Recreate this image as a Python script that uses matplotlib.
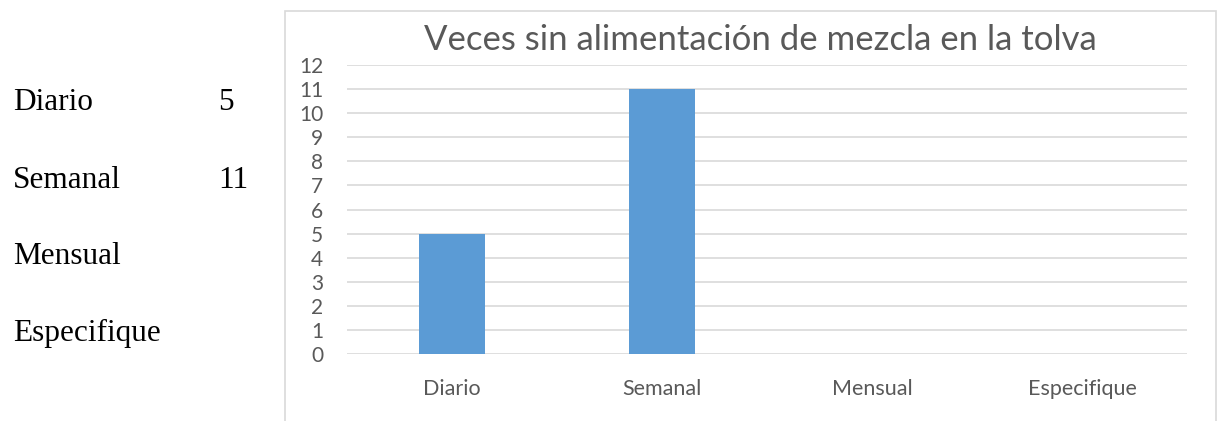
import matplotlib.pyplot as plt
from matplotlib.patches import Rectangle

# Datos
categorias = ['Diario', 'Semanal', 'Mensual', 'Especifique']
valores = [5, 11, 0, 0]
tabla_etiquetas = ['Diario', 'Semanal', 'Mensual', 'Especifique']
tabla_valores = ['5', '11', '', '']
titulo = 'Veces sin alimentación de mezcla en la tolva'

W, H = 1218, 421
fig = plt.figure(figsize=(W / 100, H / 100), dpi=100)

# Marco del gráfico
fig.patches.append(Rectangle((285 / W, -0.05), (1216 - 285) / W, (H - 11) / H + 0.05,
                             transform=fig.transFigure, fill=False,
                             edgecolor='#D9D9D9', linewidth=1.2))

# Tabla a la izquierda (texto)
ys = [103, 180, 257, 333]
for y, et, v in zip(ys, tabla_etiquetas, tabla_valores):
    fig.text(13 / W, 1 - y / H, et, family='Liberation Serif', fontsize=22.5,
             va='center', ha='left', color='black')
    if v:
        fig.text(218 / W, 1 - y / H, v, family='Liberation Serif', fontsize=22.5,
                 va='center', ha='left', color='black')

# Ejes del gráfico de barras
ax = fig.add_axes([347 / W, (H - 354) / H, 840 / W, (354 - 65) / H])
x = range(len(categorias))
ax.bar(x, valores, width=0.314, color='#5B9BD5', zorder=3)
ax.set_xlim(-0.5, len(categorias) - 0.5)
ax.set_ylim(0, 12)
ax.set_yticks(range(0, 13))
ax.set_xticks(list(x))
ax.set_xticklabels(categorias)
ax.grid(axis='y', color='#D9D9D9', linewidth=1.2, zorder=0)
for s in ax.spines.values():
    s.set_visible(False)
ax.tick_params(axis='both', length=0, colors='#595959')
ax.tick_params(axis='y', labelsize=15, pad=17)
ax.tick_params(axis='x', labelsize=15.5, pad=18)
for lab in ax.get_xticklabels() + ax.get_yticklabels():
    lab.set_family('Lato')

fig.text(760 / W, 1 - 40 / H, titulo, family='Lato', fontsize=25,
         color='#595959', ha='center', va='center')

fig.savefig('out.png', dpi=100)
